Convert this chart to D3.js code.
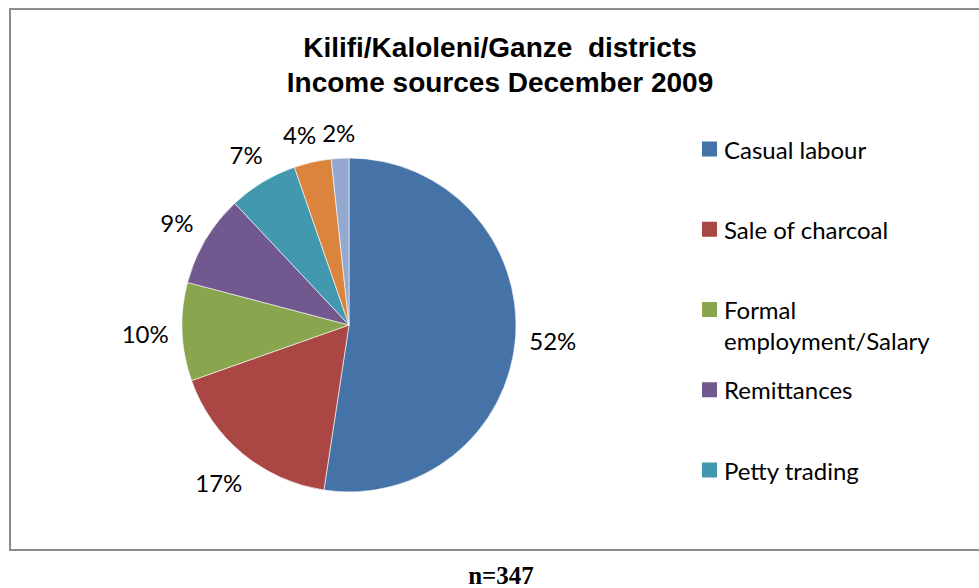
<!DOCTYPE html>
<html>
<head>
<meta charset="utf-8">
<script src="https://cdn.jsdelivr.net/npm/d3@7"></script>
<style>
  body { margin: 0; background: #fff; }
  svg { display: block; }
</style>
</head>
<body>
<div id="chart"></div>
<script>
//------------------------------------------------------------------------ Data
var categories = ["Casual labour", "Sale of charcoal", "Formal employment/Salary",
                  "Remittances", "Petty trading", "Sale of farm produce", "Other"];
var shares = [52.4, 17.2, 9.5, 8.9, 6.7, 3.6, 1.7];   // percent of households
var legendLines = [["Casual labour"], ["Sale of charcoal"], ["Formal", "employment/Salary"],
                   ["Remittances"], ["Petty trading"]];  // only 5 fit in the legend box
var titleLines = ["Kilifi/Kaloleni/Ganze  districts", "Income sources December 2009"];
var footnote = "n=347";

//------------------------------------------------------------------------ Variables
var width = 979, height = 588;
var cx = 349, cy = 325, radius = 167;
var colors = ["#4572A7", "#AA4643", "#89A54E", "#71588F", "#4198AF", "#DB843D", "#93A9CF"];
var labelFont = "Lato, 'Open Sans', sans-serif";
var labelSize = 24;

//------------------------------------------------------------------------ Functions
function newSvg(target, w, h){
  return d3.select(target).append("svg").attr("width", w).attr("height", h);
}

//------------------------------------------------------------------------ Drawing
var svg = newSvg("#chart", width, height);

// chart frame (right edge runs off the picture)
svg.append("path")
  .attr("d", "M" + (width + 5) + ",9 H10 V550 H" + (width + 5))
  .attr("fill", "none")
  .attr("stroke", "#8c8c8c")
  .attr("stroke-width", 2);

// title
svg.selectAll(".title")
  .data(titleLines)
  .enter().append("text")
  .attr("class", "title")
  .attr("x", 500)
  .attr("y", function(d, i){ return 57 + i * 35; })
  .attr("text-anchor", "middle")
  .attr("font-family", "'Liberation Sans', Arial, sans-serif")
  .attr("font-weight", "bold")
  .attr("font-size", "28px")
  .attr("fill", "#000")
  .style("white-space", "pre")
  .text(function(d){ return d; });

// pie
var color = d3.scaleOrdinal().domain(categories).range(colors);
var pie = d3.pie().sort(null).value(function(d){ return d.value; });
var arc = d3.arc().innerRadius(0).outerRadius(radius);

var table = categories.map(function(c, i){ return {name: c, value: shares[i]}; });
var arcs = pie(table);

var g = svg.append("g").attr("transform", "translate(" + cx + "," + cy + ")");

g.selectAll("path.slice")
  .data(arcs)
  .enter().append("path")
  .attr("class", "slice")
  .attr("d", arc)
  .attr("fill", function(d){ return color(d.data.name); })
  .attr("stroke", "#fff")
  .attr("stroke-width", 0.6);

// outside-end percentage labels
var total = d3.sum(shares);
var labels = g.selectAll("text.pct")
  .data(arcs)
  .enter().append("text")
  .attr("class", "pct")
  .attr("font-family", labelFont)
  .attr("font-size", labelSize + "px")
  .attr("fill", "#000")
  .attr("text-anchor", "middle")
  .attr("dominant-baseline", "central")
  .text(function(d){ return Math.round(d.data.value / total * 100) + "%"; });

var boxes = [];
labels.each(function(d){
  var a = (d.startAngle + d.endAngle) / 2;
  var s = Math.sin(a), c = Math.cos(a);
  var w = this.getComputedTextLength(), h = labelSize;
  var dist = radius + 13 + Math.abs(s) * w / 2 + Math.abs(c) * h / 2;
  boxes.push({node: this, x: s * dist, y: -c * dist, w: w, h: h});
});

// push crowded labels near the top outwards (walk from the last slice back)
for (var i = boxes.length - 2; i >= 0; i--) {
  var b = boxes[i], p = boxes[i + 1];
  var overlapY = Math.abs(b.y - p.y) < (b.h + p.h) / 2 - 2;
  var gap = (p.x - p.w / 2) - (b.x + b.w / 2);
  if (b.x < 0 && overlapY && gap < 6) b.x -= 6 - gap;
}
boxes.forEach(function(b){ d3.select(b.node).attr("x", b.x).attr("y", b.y); });

// legend
var legend = svg.append("g").attr("transform", "translate(702,0)");
var legendY = d3.scalePoint().domain(d3.range(legendLines.length)).range([149, 470]);

var item = legend.selectAll("g.item")
  .data(legendLines)
  .enter().append("g")
  .attr("class", "item")
  .attr("transform", function(d, i){ return "translate(0," + legendY(i) + ")"; });

item.append("rect")
  .attr("x", 0).attr("y", -7.5)
  .attr("width", 15).attr("height", 15)
  .attr("fill", function(d, i){ return colors[i]; });

item.selectAll("text")
  .data(function(d){ return d; })
  .enter().append("text")
  .attr("x", 22)
  .attr("y", function(d, j){ return j * 31; })
  .attr("dominant-baseline", "central")
  .attr("font-family", labelFont)
  .attr("font-size", labelSize + "px")
  .attr("fill", "#000")
  .text(function(d){ return d; });

// sample size under the frame
svg.append("text")
  .attr("x", 501).attr("y", 584)
  .attr("text-anchor", "middle")
  .attr("font-family", "'Liberation Serif', 'Times New Roman', serif")
  .attr("font-weight", "bold")
  .attr("font-size", "25px")
  .text(footnote);
</script>
</body>
</html>
